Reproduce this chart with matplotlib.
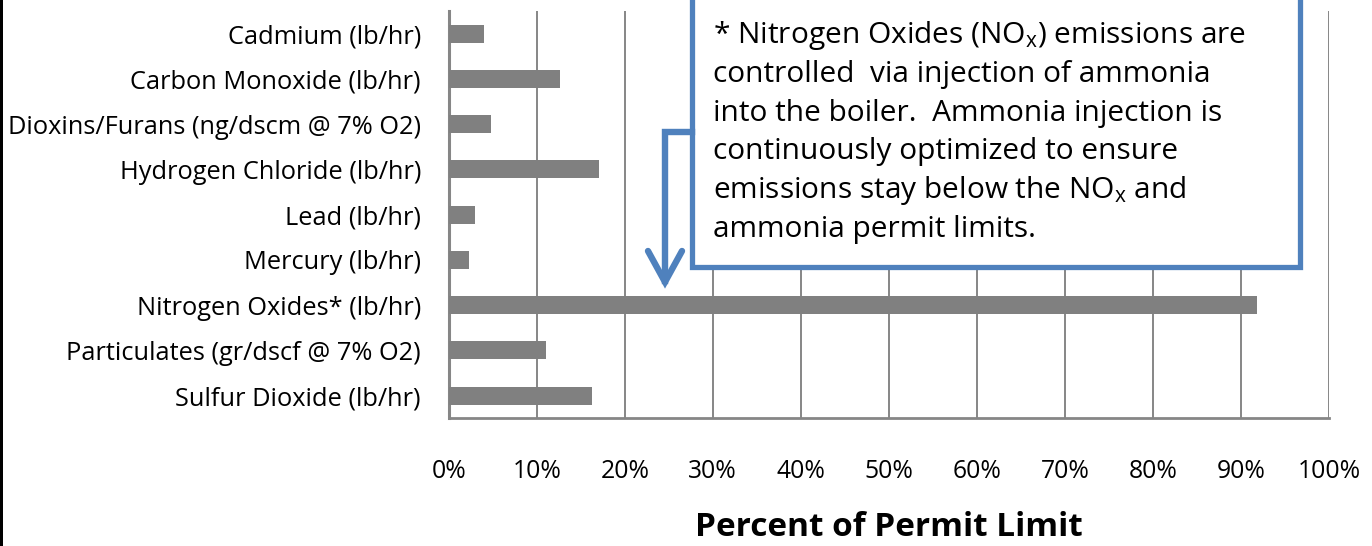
import matplotlib
matplotlib.use("Agg")
import matplotlib.pyplot as plt
from matplotlib.patches import Rectangle
from matplotlib.lines import Line2D

plt.rcParams['font.family'] = ['Open Sans', 'DejaVu Sans']
plt.rcParams['mathtext.fontset'] = 'custom'
plt.rcParams['mathtext.rm'] = 'Open Sans'
plt.rcParams['mathtext.it'] = 'Open Sans'

# Data (percent of permit limit)
pollutants = [
    'Cadmium (lb/hr)',
    'Carbon Monoxide (lb/hr)',
    'Dioxins/Furans (ng/dscm @ 7% O2)',
    'Hydrogen Chloride (lb/hr)',
    'Lead (lb/hr)',
    'Mercury (lb/hr)',
    'Nitrogen Oxides* (lb/hr)',
    'Particulates (gr/dscf @ 7% O2)',
    'Sulfur Dioxide (lb/hr)',
]
percent_of_limit = [4.0, 12.7, 4.8, 17.1, 3.0, 2.3, 91.8, 11.1, 16.3]
x_ticks = [0, 10, 20, 30, 40, 50, 60, 70, 80, 90, 100]
x_tick_labels = [f'{t}%' for t in x_ticks]

note_lines = [
    '* Nitrogen Oxides (NO$_{\\mathrm{x}}$) emissions are',
    'controlled  via injection of ammonia',
    'into the boiler.  Ammonia injection is',
    'continuously optimized to ensure',
    'emissions stay below the NO$_{\\mathrm{x}}$ and',
    'ammonia permit limits.',
]

GRID = '#868686'
BAR = '#808080'
BLUE = '#4F81BD'

W, H = 1372, 546
fig = plt.figure(figsize=(W / 100, H / 100), dpi=100)
ax = fig.add_axes([448.7 / W, 1 - 418.3 / H, (1329 - 448.7) / W, (418.3 - 11) / H])

ypos = list(range(len(pollutants)))
ax.barh(ypos, percent_of_limit, height=0.4, color=BAR, zorder=3)

ax.set_xlim(0, 100)
ax.set_ylim(len(pollutants) - 0.5, -0.5)
ax.set_yticks(ypos)
ax.set_yticklabels(pollutants, fontsize=18.3)
ax.set_xticks(x_ticks)
ax.set_xticklabels(x_tick_labels, fontsize=17.8)
ax.tick_params(axis='both', length=0)
ax.tick_params(axis='y', pad=20)
ax.tick_params(axis='x', pad=29)

ax.xaxis.grid(True, color=GRID, linewidth=1.4, zorder=0)
ax.set_axisbelow(True)
ax.spines['top'].set_visible(False)
ax.spines['right'].set_visible(False)
ax.spines['left'].set_color(GRID)
ax.spines['left'].set_linewidth(2.2)
ax.spines['bottom'].set_color(GRID)
ax.spines['bottom'].set_linewidth(2.0)

ax.set_xlabel('Percent of Permit Limit', fontsize=24, fontweight='bold', labelpad=20)

# black strip along the left edge
fig.add_artist(Rectangle((0, 0), 3 / W, 1, transform=fig.transFigure,
                         facecolor='black', edgecolor='none'))

# callout box (top runs off the figure)
bx0, bx1, by_bottom = 692, 1300, 267
fig.add_artist(Rectangle((bx0 / W, 1 - by_bottom / H), (bx1 - bx0) / W, by_bottom / H + 0.05,
                         transform=fig.transFigure, facecolor='white',
                         edgecolor=BLUE, linewidth=3.8, zorder=5))
for i, line in enumerate(note_lines):
    fig.text(713 / W, 1 - (43 + 38.8 * i) / H, line, fontsize=21.5,
             ha='left', va='baseline', zorder=6)

# arrow from the box down to the NOx bar
arrow_x, arrow_y0, arrow_tip = 665, 132, 285
fig.add_artist(Line2D([bx0 / W, arrow_x / W, arrow_x / W],
                      [1 - arrow_y0 / H, 1 - arrow_y0 / H, 1 - (arrow_tip - 4) / H],
                      transform=fig.transFigure, color=BLUE, linewidth=4.6,
                      solid_joinstyle='miter', zorder=6))
fig.add_artist(Line2D([(arrow_x - 17) / W, arrow_x / W, (arrow_x + 17) / W],
                      [1 - 251 / H, 1 - (arrow_tip - 3) / H, 1 - 251 / H],
                      transform=fig.transFigure, color=BLUE, linewidth=4.6,
                      solid_joinstyle='miter', solid_capstyle='round', zorder=6))

fig.savefig('out.png', dpi=100)
